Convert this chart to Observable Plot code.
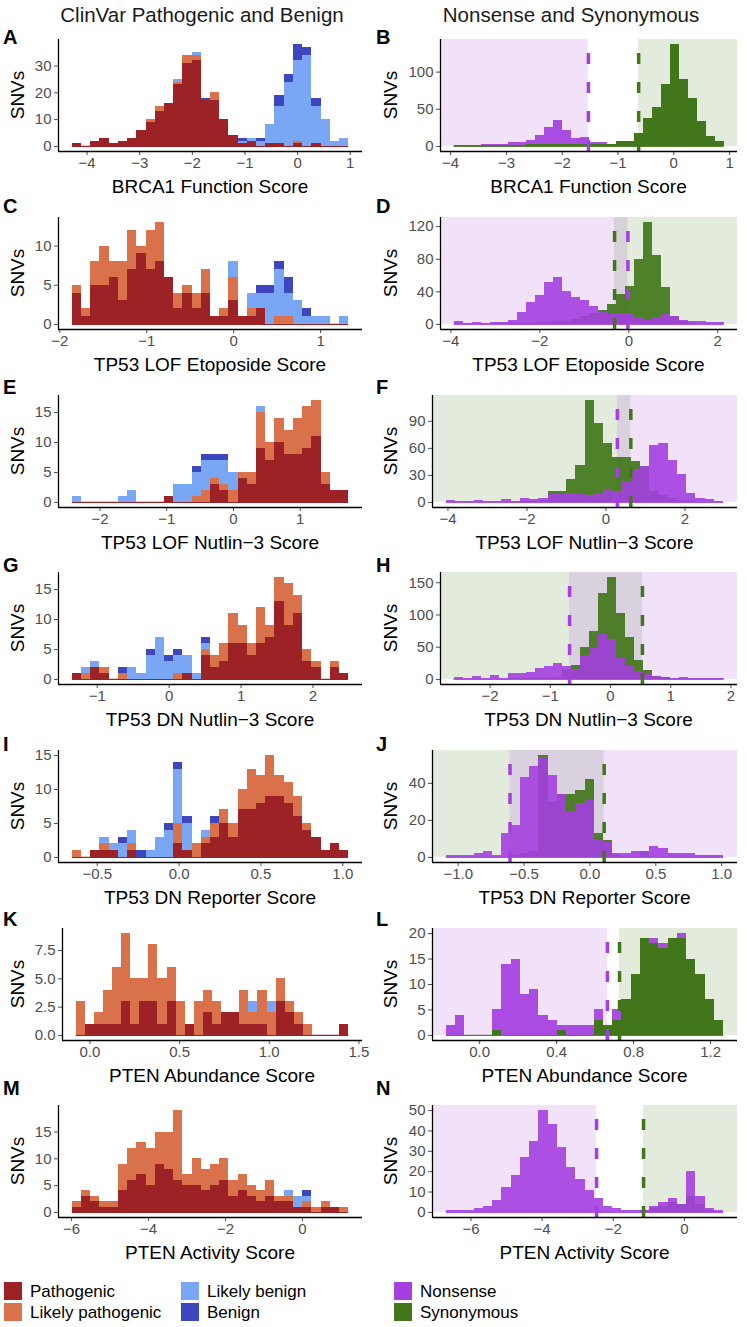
<!DOCTYPE html>
<html>
<head>
<meta charset="utf-8">
<script src="https://cdn.jsdelivr.net/npm/d3@7"></script>
<script src="https://cdn.jsdelivr.net/npm/@observablehq/plot@0.6"></script>
<style>
html,body{margin:0;padding:0;background:#fff;}
#root{position:relative;width:747px;height:1327px;overflow:hidden;font-family:"Liberation Sans",Arial,Helvetica,sans-serif;color:#000;}
.t{position:absolute;white-space:nowrap;line-height:1;}
.panel{position:absolute;}
.panel svg{display:block;}
.sw{position:absolute;width:18px;height:18px;}
</style>
</head>
<body>
<div id="root"></div>
<script>
// ---------------- DATA ----------------
const columnTitles = ["ClinVar Pathogenic and Benign", "Nonsense and Synonymous"];
const xTitles = ["BRCA1 Function Score", "TP53 LOF Etoposide Score", "TP53 LOF Nutlin\u22123 Score",
  "TP53 DN Nutlin\u22123 Score", "TP53 DN Reporter Score", "PTEN Abundance Score", "PTEN Activity Score"];
const leftLetters = ["A","C","E","G","I","K","M"];
const rightLetters = ["B","D","F","H","J","L","N"];
const clinCategories = ["Pathogenic","Likely pathogenic","Likely benign","Benign"];
const mutTypes = ["Nonsense","Synonymous"];

// bin extents (first bin left edge, last bin right edge), 30 bins each
const A_range = [-4.28, 0.97];
const A_pathogenic = [1,0,2,3,1, 2,3,6,9,13, 16,23,31,32,17, 17,10,4,1,2, 0,1,1,0,1, 0,1,0,0,0];
const A_likelyPathogenic = [0,0,0,0,0, 0,0,0,1,2, 0,1,3,2,0, 3,0,0,0,0, 0,0,0,0,1, 0,0,0,0,0];
const A_likelyBenign = [0,0,0,0,0, 0,0,0,0,0, 0,1,0,1,0, 0,0,0,1,1, 2,7,14,24,30, 34,14,10,2,3];
const A_benign = [0,0,0,0,0, 0,0,0,0,0, 0,0,0,0,1, 0,0,0,1,0, 1,0,4,3,6, 3,3,0,0,0];
const A_xTicks = [-4,-3,-2,-1,0,1], A_yTicks = [0,10,20,30];

const B_range = [-3.94, 0.90];
const B_nonsense = [1,1,1,2,2, 2,5,5,8,15, 26,35,22,10,12, 5,5,3,1,1, 0,0,0,0,0, 0,0,0,0,0];
const B_synonymous = [1,1,1,1,1, 1,1,1,2,2, 2,2,2,2,3, 2,2,3,6,7, 17,37,53,83,137, 90,65,33,13,6];
const B_cuts = [-1.53, -0.63];
const B_xTicks = [-4,-3,-2,-1,0,1], B_yTicks = [0,50,100];

const C_range = [-1.856, 1.323];
const C_pathogenic = [4,1,5,5,6, 3,7,9,7,8, 6,2,4,2,4, 1,1,3,1,1, 2,0,0,0,0, 0,0,0,0,0];
const C_likelyPathogenic = [1,1,3,5,2, 5,5,1,5,5, 0,2,1,2,3, 0,1,3,0,1, 0,0,1,1,0, 0,0,0,0,0];
const C_likelyBenign = [0,0,0,0,0, 0,0,0,0,0, 0,0,0,0,0, 0,0,2,0,2, 2,4,6,3,3, 1,1,1,0,1];
const C_benign = [0,0,0,0,0, 0,0,0,0,0, 0,0,0,0,0, 0,0,0,0,0, 1,1,1,2,0, 1,0,0,0,0];
const C_xTicks = [-2,-1,0,1], C_yTicks = [0,5,10];

const D_range = [-3.93, 2.14];
const D_nonsense = [3,1,2,1,2, 2,5,15,27,35, 52,58,40,33,29, 22,15,12,13,13, 8,5,8,12,10, 5,4,3,2,2];
const D_synonymous = [0,0,0,0,0, 1,1,1,1,2, 2,3,4,6,10, 14,17,25,37,47, 80,125,85,45,10, 3,1,0,0,0];
const D_cuts = [-0.02, -0.32];
const D_xTicks = [-4,-2,0,2], D_yTicks = [0,40,80,120];

const E_range = [-2.414, 1.725];
const E_pathogenic = [0,0,0,0,0, 0,0,0,0,0, 1,0,0,0,0, 3,2,0,4,3, 9,7,10,8,8, 9,11,3,2,2];
const E_likelyPathogenic = [0,0,0,0,0, 0,0,0,0,0, 0,0,0,1,2, 1,1,2,1,2, 6,3,4,4,6, 7,6,2,0,0];
const E_likelyBenign = [1,0,0,0,0, 1,2,0,0,0, 0,3,3,4,5, 3,4,3,0,0, 1,0,0,0,0, 0,0,0,0,0];
const E_benign = [0,0,0,0,0, 0,0,0,0,0, 0,0,0,1,1, 1,1,0,0,0, 0,0,0,0,0, 0,0,0,0,0];
const E_xTicks = [-2,-1,0,1], E_yTicks = [0,5,10,15];

const F_range = [-4.04, 2.98];
const F_nonsense = [2,1,1,2,1, 1,3,1,4,3, 4,9,9,10,9, 8,10,14,12,23, 36,40,63,65,47, 31,10,4,3,1];
const F_synonymous = [0,0,0,0,0, 0,0,0,1,1, 2,12,12,25,41, 113,88,65,50,50, 45,40,12,8,4, 2,1,0,0,0];
const F_cuts = [0.29, 0.63];
const F_xTicks = [-4,-2,0,2], F_yTicks = [0,30,60,90];

const G_range = [-1.347, 2.497];
const G_pathogenic = [1,0,2,1,0, 0,0,0,0,0, 0,0,1,0,4, 2,3,6,6,4, 6,7,13,9,11, 3,2,0,2,1];
const G_likelyPathogenic = [0,1,0,1,0, 1,0,0,0,0, 0,1,0,0,1, 2,3,5,3,2, 6,2,4,7,3, 2,1,0,1,0];
const G_likelyBenign = [0,1,1,0,0, 0,2,1,4,7, 3,3,3,1,1, 0,0,0,0,0, 0,0,0,0,0, 0,0,0,0,0];
const G_benign = [0,0,0,0,0, 1,0,0,1,0, 1,1,0,0,1, 0,0,0,0,0, 0,0,0,0,0, 0,0,0,0,0];
const G_xTicks = [-1,0,1,2], G_yTicks = [0,5,10,15];

const H_range = [-2.60, 1.885];
const H_nonsense = [3,2,5,2,6, 2,9,9,10,17, 20,24,20,15,37, 48,70,62,33,20, 12,8,5,3,2, 3,2,1,1,2];
const H_synonymous = [0,0,0,0,0, 0,1,1,1,2, 2,3,15,22,50, 75,133,158,103,65, 30,14,5,3,0, 0,0,0,0,0];
const H_cuts = [-0.68, 0.53];
const H_xTicks = [-2,-1,0,1,2], H_yTicks = [0,50,100,150];

const I_range = [-0.652, 1.036];
const I_pathogenic = [0,0,1,1,1, 0,1,0,0,0, 0,2,1,0,2, 3,5,3,7,7, 8,9,9,8,6, 4,3,1,2,1];
const I_likelyPathogenic = [1,0,0,1,0, 0,1,0,0,0, 0,3,0,2,1, 2,2,2,3,6, 4,6,3,3,3, 1,0,0,0,0];
const I_likelyBenign = [0,0,0,1,1, 2,2,0,1,3, 4,8,4,0,1, 0,0,0,0,0, 0,0,0,0,0, 0,0,0,0,0];
const I_benign = [0,0,0,0,0, 1,0,1,0,0, 1,1,1,0,0, 1,0,0,0,0, 0,0,0,0,0, 0,0,0,0,0];
const I_xTicks = [-0.5,0,0.5,1], I_yTicks = [0,5,10,15];

const J_range = [-1.09, 1.015];
const J_nonsense = [1,1,1,2,3, 1,13,17,43,49, 54,44,34,25,29, 31,9,8,2,2, 3,3,6,5,2, 2,2,1,1,1];
const J_synonymous = [0,0,0,0,0, 0,0,1,2,3, 55,30,34,34,36, 42,13,9,1,0, 0,3,0,0,0, 0,0,0,0,0];
const J_cuts = [-0.607, 0.108];
const J_xTicks = [-1,-0.5,0,0.5,1], J_yTicks = [0,20,40];

const K_range = [-0.077, 1.444];
const K_pathogenic = [0,1,1,1,1, 3,1,3,3,1, 3,0,1,0,2, 1,2,2,1,1, 1,0,3,2,1, 0,0,0,0,1];
const K_likelyPathogenic = [3,0,1,3,5, 6,4,2,5,4, 3,3,0,3,2, 2,0,0,3,1, 3,2,2,1,1, 1,0,0,0,0];
const K_likelyBenign = [0,0,0,0,0, 0,0,0,0,0, 0,0,0,0,0, 0,0,0,0,1, 0,1,0,0,0, 0,0,0,0,0];
const K_benign = [0,0,0,0,0, 0,0,0,0,0, 0,0,0,0,0, 0,0,0,0,0, 0,0,0,0,0, 0,0,0,0,0];
const K_xTicks = [0,0.5,1,1.5], K_yTicks = [0,2.5,5,7.5];

const L_range = [-0.173, 1.268];
const L_nonsense = [2,4,0,0,0, 5,14,15,8,9, 4,3,2,2,2, 2,5,2,5,0, 0,0,19,18,0, 20,0,0,0,0];
const L_synonymous = [0,0,0,0,0, 1,0,0,0,0, 0,0,1,0,0, 0,3,2,3,7, 12,19,18,17,19, 19,15,12,7,3];
const L_cuts = [0.664, 0.727];
const L_xTicks = [0,0.4,0.8,1.2], L_yTicks = [0,5,10,15,20];

const M_range = [-5.98, 1.2];
const M_pathogenic = [1,3,2,1,1, 4,6,7,5,9, 8,6,5,5,4, 5,6,3,4,3, 2,3,2,2,1, 1,0,1,1,0];
const M_likelyPathogenic = [1,1,1,1,1, 5,6,6,7,6, 7,13,2,5,4, 4,4,3,3,2, 2,3,1,1,0, 1,1,1,0,1];
const M_likelyBenign = [0,0,0,0,0, 0,0,0,0,0, 0,0,0,0,0, 0,0,0,0,0, 0,0,0,1,2, 1,0,0,0,0];
const M_benign = [0,0,0,0,0, 0,0,0,0,0, 0,0,0,0,0, 0,0,0,0,0, 0,0,0,0,0, 1,0,0,0,0];
const M_xTicks = [-6,-4,-2,0], M_yTicks = [0,5,10,15];

const N_range = [-6.69, 1.10];
const N_nonsense = [1,1,1,2,3, 6,12,18,27,35, 50,43,32,22,16, 11,7,3,2,1, 1,1,3,5,7, 4,20,8,2,1];
const N_synonymous = [0,0,0,0,0, 0,0,0,0,0, 0,0,0,0,0, 0,0,0,0,0, 0,1,2,3,5, 4,8,4,1,0];
const N_cuts = [-2.47, -1.15];
const N_xTicks = [-6,-4,-2,0], N_yTicks = [0,10,20,30,40,50];

// direction: does the nonsense (LOF) class sit at the low end of the score?
const nonsenseLow = [true, true, false, false, false, true, true];
// which class is drawn on top in each right panel
const topClass = ["Synonymous","Nonsense","Nonsense","Nonsense","Nonsense","Synonymous","Nonsense"];

// ---------------- STYLE / LAYOUT ----------------
const clinColors = ["#9c2226","#d9714a","#7aa7f5","#3d45bf"];
const mutColors = ["#a43fe0","#42761a"];
const rowTops = [19,197,375,552,730,908,1085];
const letterY = [36.5,206,386.5,565,743.5,919,1088];
const leftMarginL = [58,58,58,58,58,62,58];
const rightMarginL = [67,67,59,67,59,59,59];
const LW = 373, RW = 374, PH = 177, MT = 20, MB = 45;

const leftPanels = [
  {range:A_range, series:[A_pathogenic,A_likelyPathogenic,A_likelyBenign,A_benign], xt:A_xTicks, yt:A_yTicks},
  {range:C_range, series:[C_pathogenic,C_likelyPathogenic,C_likelyBenign,C_benign], xt:C_xTicks, yt:C_yTicks},
  {range:E_range, series:[E_pathogenic,E_likelyPathogenic,E_likelyBenign,E_benign], xt:E_xTicks, yt:E_yTicks},
  {range:G_range, series:[G_pathogenic,G_likelyPathogenic,G_likelyBenign,G_benign], xt:G_xTicks, yt:G_yTicks},
  {range:I_range, series:[I_pathogenic,I_likelyPathogenic,I_likelyBenign,I_benign], xt:I_xTicks, yt:I_yTicks},
  {range:K_range, series:[K_pathogenic,K_likelyPathogenic,K_likelyBenign,K_benign], xt:K_xTicks, yt:K_yTicks},
  {range:M_range, series:[M_pathogenic,M_likelyPathogenic,M_likelyBenign,M_benign], xt:M_xTicks, yt:M_yTicks}
];
const rightPanels = [
  {range:B_range, nonsense:B_nonsense, synonymous:B_synonymous, cuts:B_cuts, xt:B_xTicks, yt:B_yTicks},
  {range:D_range, nonsense:D_nonsense, synonymous:D_synonymous, cuts:D_cuts, xt:D_xTicks, yt:D_yTicks},
  {range:F_range, nonsense:F_nonsense, synonymous:F_synonymous, cuts:F_cuts, xt:F_xTicks, yt:F_yTicks},
  {range:H_range, nonsense:H_nonsense, synonymous:H_synonymous, cuts:H_cuts, xt:H_xTicks, yt:H_yTicks},
  {range:J_range, nonsense:J_nonsense, synonymous:J_synonymous, cuts:J_cuts, xt:J_xTicks, yt:J_yTicks},
  {range:L_range, nonsense:L_nonsense, synonymous:L_synonymous, cuts:L_cuts, xt:L_xTicks, yt:L_yTicks},
  {range:N_range, nonsense:N_nonsense, synonymous:N_synonymous, cuts:N_cuts, xt:N_xTicks, yt:N_yTicks}
];

const root = document.getElementById("root");
function addText(txt, x, y, o = {}) {
  const d = document.createElement("div");
  d.className = "t"; d.textContent = txt;
  d.style.left = x + "px"; d.style.top = y + "px";
  d.style.fontSize = (o.size || 19) + "px";
  d.style.fontWeight = o.weight || "normal";
  d.style.color = o.color || "#000";
  const tx = o.anchor === "start" ? "0" : "-50%";
  d.style.transform = `translate(${tx},-50%)` + (o.rotate ? ` rotate(${o.rotate}deg)` : "");
  root.appendChild(d);
}
const fmtFor = ticks => ticks.every(Number.isInteger) ? d3.format("d") : d3.format(".1f");
const baseStyle = {fontFamily:'"Liberation Sans",Arial,sans-serif', fontSize:"15px", color:"#4d4d4d", background:"transparent", overflow:"visible"};

function scalesFor(xd, yd, p) {
  return {
    x: {domain: xd, ticks: p.xt, tickFormat: fmtFor(p.xt), tickSize: 4, tickPadding: 2, label: null},
    y: {domain: yd, ticks: p.yt, tickFormat: fmtFor(p.yt), tickSize: 4, tickPadding: 3, label: null}
  };
}

function leftPlot(p, k) {
  const [start, end] = p.range, n = p.series[0].length, w = (end - start) / n, span = end - start;
  const rows = [];
  let ymax = 0;
  for (let i = 0; i < n; i++) {
    let acc = 0;
    p.series.forEach((s, c) => {
      rows.push({x1: start + i * w, x2: start + (i + 1) * w, y1: acc, y2: acc + s[i], cat: clinCategories[c]});
      acc += s[i];
    });
    ymax = Math.max(ymax, acc);
  }
  const xd = [start - 0.05 * span, end + 0.05 * span], yd = [-0.05 * ymax, 1.05 * ymax];
  return Plot.plot({
    width: LW, height: PH, marginLeft: leftMarginL[k], marginRight: LW - 362, marginTop: MT, marginBottom: MB,
    style: baseStyle, ...scalesFor(xd, yd, p),
    color: {domain: clinCategories, range: clinColors},
    marks: [
      Plot.ruleY([0], {x1: start, x2: end, stroke: clinColors[0], strokeWidth: 1.2}),
      Plot.rect(rows.filter(r => r.y2 > r.y1), {x1: "x1", x2: "x2", y1: "y1", y2: "y2", fill: "cat", shapeRendering: "crispEdges"}),
      Plot.ruleY([yd[0]], {stroke: "#000", strokeWidth: 1.3}),
      Plot.ruleX([xd[0]], {stroke: "#000", strokeWidth: 1.3})
    ]
  });
}

function rightPlot(p, k) {
  const [start, end] = p.range, n = p.nonsense.length, w = (end - start) / n, span = end - start;
  const ymax = Math.max(d3.max(p.nonsense), d3.max(p.synonymous));
  const xd = [start - 0.05 * span, end + 0.05 * span], yd = [-0.05 * ymax, 1.05 * ymax];
  const [nCut, sCut] = p.cuts;
  const shades = nonsenseLow[k]
    ? [{x1: xd[0], x2: nCut, type: "Nonsense"}, {x1: sCut, x2: xd[1], type: "Synonymous"}]
    : [{x1: xd[0], x2: sCut, type: "Synonymous"}, {x1: nCut, x2: xd[1], type: "Nonsense"}];
  const bins = d3.range(n).map(i => ({x1: start + i * w, x2: start + (i + 1) * w, Nonsense: p.nonsense[i], Synonymous: p.synonymous[i]}));
  const top = topClass[k], bottom = top === "Nonsense" ? "Synonymous" : "Nonsense";
  const col = t => mutColors[mutTypes.indexOf(t)];
  const topOpacity = top === "Synonymous" ? 1 : 0.9;
  return Plot.plot({
    width: RW, height: PH, marginLeft: rightMarginL[k], marginRight: 10, marginTop: MT, marginBottom: MB,
    style: baseStyle, ...scalesFor(xd, yd, p),
    color: {domain: mutTypes, range: mutColors},
    marks: [
      Plot.rect(shades, {x1: "x1", x2: "x2", y1: 0, y2: yd[1], fill: "type", fillOpacity: 0.15}),
      Plot.ruleY([0], {x1: start, x2: end, stroke: col(top), strokeWidth: 1.2, strokeOpacity: 0.9}),
      Plot.rect(bins.filter(d => d[bottom] > 0), {x1: "x1", x2: "x2", y1: 0, y2: bottom, fill: col(bottom), fillOpacity: 0.92, shapeRendering: "crispEdges"}),
      Plot.rect(bins.filter(d => d[top] > 0), {x1: "x1", x2: "x2", y1: 0, y2: top, fill: col(top), fillOpacity: topOpacity, shapeRendering: "crispEdges"}),
      Plot.ruleX([nCut], {y1: yd[0], y2: yd[1], stroke: col("Nonsense"), strokeWidth: 3.5, strokeDasharray: "11,18"}),
      Plot.ruleX([sCut], {y1: yd[0], y2: yd[1], stroke: col("Synonymous"), strokeWidth: 3.5, strokeDasharray: "11,18"}),
      Plot.ruleY([yd[0]], {stroke: "#000", strokeWidth: 1.3}),
      Plot.ruleX([xd[0]], {stroke: "#000", strokeWidth: 1.3})
    ]
  });
}

function place(svg, left, top) {
  const d = document.createElement("div");
  d.className = "panel"; d.style.left = left + "px"; d.style.top = top + "px";
  d.appendChild(svg); root.appendChild(d);
}

addText(columnTitles[0], 202, 15, {size: 20.5, color: "#1a1a1a"});
addText(columnTitles[1], 571, 15, {size: 20.5, color: "#1a1a1a"});

for (let k = 0; k < 7; k++) {
  const T = rowTops[k];
  place(leftPlot(leftPanels[k], k), 0, T);
  place(rightPlot(rightPanels[k], k), LW, T);
  addText(leftLetters[k], 3, letterY[k], {size: 20, weight: "bold", anchor: "start"});
  addText(rightLetters[k], 376, letterY[k], {size: 20, weight: "bold", anchor: "start"});
  addText("SNVs", 17, T + MT + (PH - MT - MB) / 2, {size: 19, rotate: -90});
  addText("SNVs", 390, T + MT + (PH - MT - MB) / 2, {size: 19, rotate: -90});
  const lcx = (leftMarginL[k] + 362) / 2, rcx = LW + (rightMarginL[k] + RW - 10) / 2;
  addText(xTitles[k], lcx, T + PH - MB + 35, {size: 19});
  addText(xTitles[k], rcx, T + PH - MB + 35, {size: 19});
}

// legend
const legendItems = [
  [clinCategories[0], clinColors[0], 4, 1291], [clinCategories[1], clinColors[1], 4, 1312],
  [clinCategories[2], clinColors[2], 181, 1291], [clinCategories[3], clinColors[3], 181, 1312],
  [mutTypes[0], mutColors[0], 394, 1291], [mutTypes[1], mutColors[1], 394, 1312]
];
legendItems.forEach(([label, color, x, y]) => {
  const s = document.createElement("div");
  s.className = "sw"; s.style.left = x + "px"; s.style.top = (y - 9) + "px"; s.style.background = color;
  root.appendChild(s);
  addText(label, x + 26, y, {size: 17, anchor: "start"});
});
</script>
</body>
</html>
